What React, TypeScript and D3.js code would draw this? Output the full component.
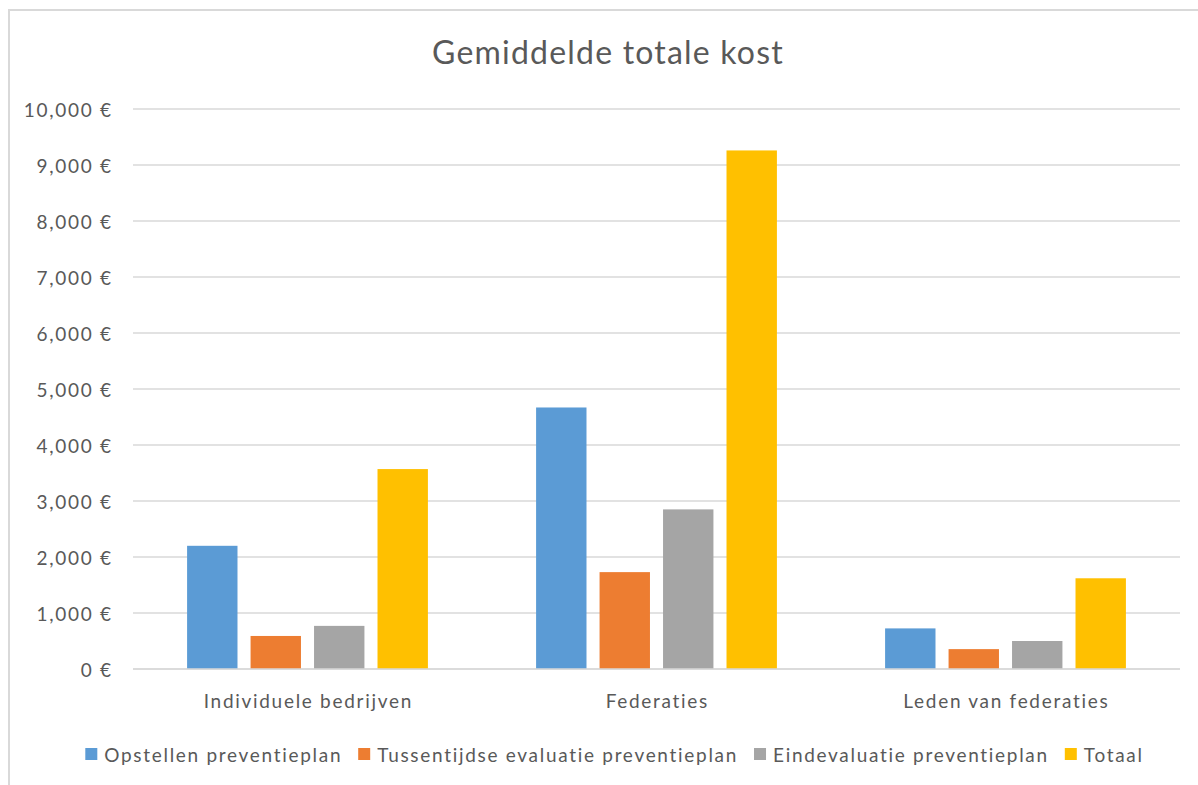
import React, { useEffect, useRef } from "react";
import * as d3 from "d3";

const categories = ["Individuele bedrijven", "Federaties", "Leden van federaties"];
const seriesNames = [
  "Opstellen preventieplan",
  "Tussentijdse evaluatie preventieplan",
  "Eindevaluatie preventieplan",
  "Totaal",
];
const opstellen = [2200, 4670, 725];
const tussentijdse = [590, 1730, 355];
const eindevaluatie = [770, 2850, 500];
const totaal = [3570, 9260, 1620];
const seriesValues = [opstellen, tussentijdse, eindevaluatie, totaal];
const colors = ["#5B9BD5", "#ED7D31", "#A5A5A5", "#FFC000"];
const yTicks = [0, 1000, 2000, 3000, 4000, 5000, 6000, 7000, 8000, 9000, 10000];
const title = "Gemiddelde totale kost";

const W = 1198;
const H = 785;
const FONT = "Lato, 'Open Sans', sans-serif";
const TEXT = "#595959";
const FS = 19;
const LS = 1.7;

export default function App() {
  const ref = useRef<SVGSVGElement | null>(null);

  useEffect(() => {
    const svg = d3.select(ref.current);
    svg.selectAll("*").remove();

    const plotL = 133, plotR = 1180, plotT = 109, plotB = 669;

    // chart border
    svg.append("rect")
      .attr("x", 9).attr("y", 10).attr("width", W + 20).attr("height", H + 20)
      .attr("fill", "white").attr("stroke", "#d9d9d9").attr("stroke-width", 2);

    const y = d3.scaleLinear().domain([0, 10000]).range([plotB, plotT]);
    const x0 = d3.scaleBand<string>().domain(categories).range([plotL, plotR]).padding(0);
    const bw0 = x0.bandwidth();
    const x1 = d3.scaleBand<string>().domain(seriesNames)
      .range([bw0 * 0.155, bw0 * 0.845]).paddingInner(0.206).paddingOuter(0);

    // gridlines
    svg.append("g").selectAll("line").data(yTicks).join("line")
      .attr("x1", plotL).attr("x2", plotR)
      .attr("y1", (d) => y(d)).attr("y2", (d) => y(d))
      .attr("stroke", "#d9d9d9").attr("stroke-width", 1.3);

    // y tick labels
    const fmt = d3.format(",");
    svg.append("g").selectAll("text").data(yTicks).join("text")
      .attr("x", 111 + LS).attr("y", (d) => y(d))
      .attr("text-anchor", "end").attr("dominant-baseline", "central")
      .attr("font-family", FONT).attr("font-size", FS).attr("letter-spacing", LS)
      .attr("fill", TEXT)
      .text((d) => `${fmt(d)}\u00A0€`);

    // bars
    const groups = svg.append("g").selectAll("g").data(categories).join("g")
      .attr("transform", (c) => `translate(${x0(c)},0)`);
    groups.selectAll("rect")
      .data((c) => seriesNames.map((s, si) => ({ s, si, v: seriesValues[si][categories.indexOf(c)] })))
      .join("rect")
      .attr("x", (d) => x1(d.s)!)
      .attr("width", x1.bandwidth())
      .attr("y", (d) => y(d.v))
      .attr("height", (d) => plotB - y(d.v))
      .attr("fill", (d) => colors[d.si]);

    // baseline axis
    svg.append("line").attr("x1", plotL).attr("x2", plotR).attr("y1", plotB).attr("y2", plotB)
      .attr("stroke", "#d9d9d9").attr("stroke-width", 1.5);

    // category labels
    svg.append("g").selectAll("text").data(categories).join("text")
      .attr("x", (c) => x0(c)! + bw0 / 2 + LS / 2).attr("y", 708)
      .attr("text-anchor", "middle")
      .attr("font-family", FONT).attr("font-size", FS).attr("letter-spacing", LS)
      .attr("fill", TEXT)
      .text((c) => c);

    // title
    svg.append("text").attr("x", 608).attr("y", 64).attr("text-anchor", "middle")
      .attr("font-family", FONT).attr("font-size", 32).attr("letter-spacing", 1.2)
      .attr("fill", TEXT)
      .text(title);

    // legend
    const lg = svg.append("g");
    const sq = 12, gapSq = 7, gapItem = 16;
    let cx = 0;
    seriesNames.forEach((s, i) => {
      const g = lg.append("g").attr("transform", `translate(${cx},0)`);
      g.append("rect").attr("x", 0).attr("y", -sq / 2).attr("width", sq).attr("height", sq)
        .attr("fill", colors[i]);
      const t = g.append("text").attr("x", sq + gapSq).attr("y", 0)
        .attr("dominant-baseline", "central")
        .attr("font-family", FONT).attr("font-size", FS).attr("letter-spacing", LS)
        .attr("fill", TEXT).text(s);
      const w = (t.node() as SVGTextElement).getComputedTextLength();
      cx += sq + gapSq + w + gapItem;
    });
    const total = cx - gapItem;
    lg.attr("transform", `translate(${614.5 - total / 2},${754})`);
  }, []);

  return (
    <svg
      ref={ref}
      width={W}
      height={H}
      style={{ position: "absolute", left: 0, top: 0, background: "white" }}
    />
  );
}
